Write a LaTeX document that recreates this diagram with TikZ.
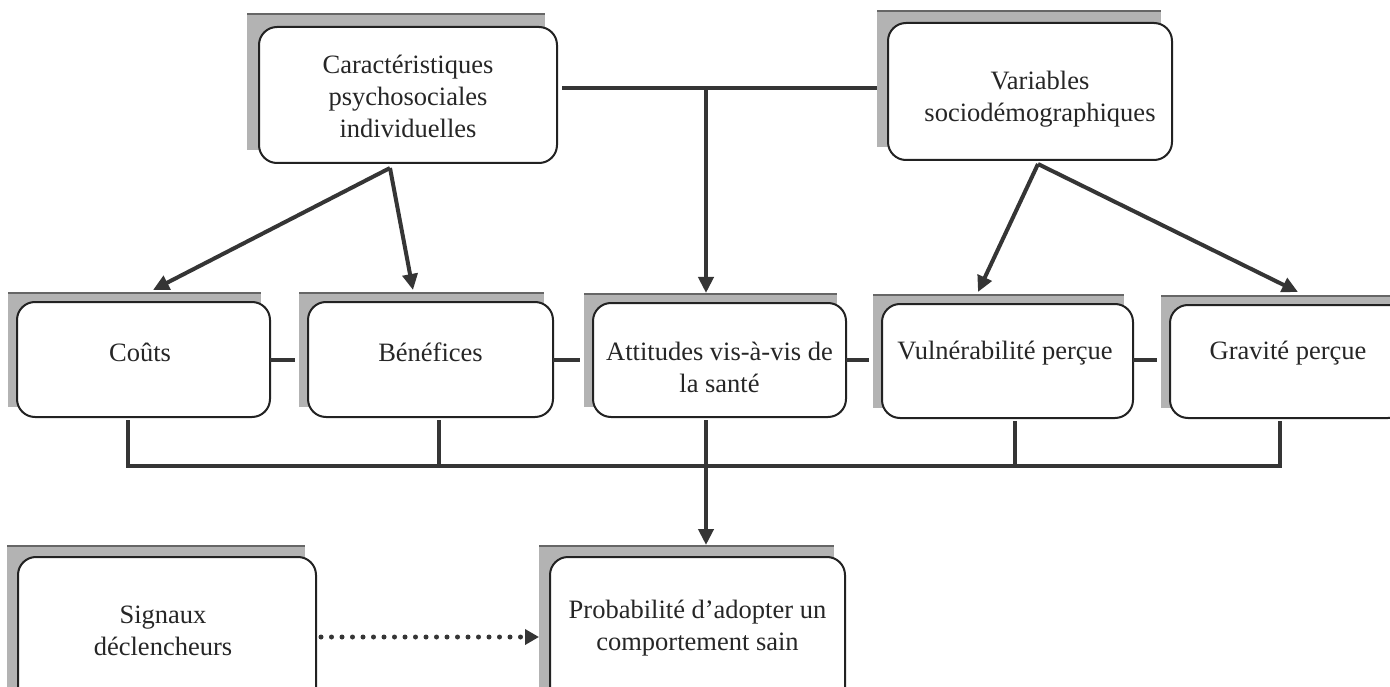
\documentclass[tikz,border=0pt]{standalone}
\usepackage{fontspec}
\setmainfont{Liberation Serif}
\usetikzlibrary{arrows.meta}
\definecolor{ink}{HTML}{353535}
\definecolor{edge}{HTML}{222222}
\definecolor{shade}{HTML}{B3B3B3}
\begin{document}
\begin{tikzpicture}[x=1pt,y=-1pt,
  shadowbox/.style={rectangle, fill=shade, inner sep=0pt, outer sep=0pt,
    path picture={\draw[line width=3pt, draw=black!60]
      (path picture bounding box.north west) -- (path picture bounding box.north east);}},
  panel/.style={rectangle, rounded corners=18pt, draw=edge, line width=2pt,
    fill=white, inner sep=0pt, outer sep=0pt},
  caption/.style={font=\fontsize{26.5}{32}\selectfont, align=center,
    text=black!85, inner sep=0pt},
  link/.style={draw=ink, line width=4pt},
  arrowlink/.style={link, -{Triangle[length=16pt,width=15pt]}},
  dotlink/.style={draw=ink, line width=5pt, line cap=round,
    dash pattern=on 0pt off 10.5pt, -{Triangle[length=14pt,width=15pt]}}
]
\useasboundingbox (0,0) rectangle (1390,687);
\clip (0,0) rectangle (1390,687);

% top row
\node[shadowbox, minimum width=298pt, minimum height=136pt] (cara-sh) at (396,82) {};
\node[panel, minimum width=298pt, minimum height=136pt] (cara) at (408,95) {};
\node[caption] (cara-t) at (408,96) {Caractéristiques\\psychosociales\\individuelles};

\node[shadowbox, minimum width=284pt, minimum height=137pt] (vars-sh) at (1019,79) {};
\node[panel, minimum width=284pt, minimum height=137pt] (vars) at (1030,91.5) {};
\node[caption] (vars-t) at (1040,99) {Variables\\sociodémographiques};

% middle row
\node[shadowbox, minimum width=253pt, minimum height=115pt] (couts-sh) at (134.5,349.5) {};
\node[panel, minimum width=253pt, minimum height=115pt] (couts) at (143.5,359.5) {};
\node[caption] (couts-t) at (140,352) {Coûts};

\node[shadowbox, minimum width=245pt, minimum height=115pt] (bene-sh) at (421.5,349.5) {};
\node[panel, minimum width=245pt, minimum height=115pt] (bene) at (430.5,359.5) {};
\node[caption] (bene-t) at (430.5,352) {Bénéfices};

\node[shadowbox, minimum width=253pt, minimum height=114pt] (att-sh) at (710.5,350) {};
\node[panel, minimum width=253pt, minimum height=114pt] (att) at (719.5,360) {};
\node[caption] (att-t) at (719.5,367) {Attitudes vis-à-vis de\\la santé};

\node[shadowbox, minimum width=251pt, minimum height=114pt] (vuln-sh) at (998.5,351) {};
\node[panel, minimum width=251pt, minimum height=114pt] (vuln) at (1007.5,361) {};
\node[caption] (vuln-t) at (1005,353) {Vulnérabilité perçue};

\node[shadowbox, minimum width=236pt, minimum height=113pt] (grav-sh) at (1279,351.5) {};
\node[panel, minimum width=236pt, minimum height=113pt] (grav) at (1288,361.5) {};
\node[caption] (grav-t) at (1288,353) {Gravité perçue};

% bottom row
\node[shadowbox, minimum width=298pt, minimum height=155pt] (sig-sh) at (156,622.5) {};
\node[panel, minimum width=298pt, minimum height=155pt] (sig) at (167,634.5) {};
\node[caption] (sig-t) at (163,631) {Signaux\\déclencheurs};

\node[shadowbox, minimum width=295pt, minimum height=155pt] (prob-sh) at (686.5,622.5) {};
\node[panel, minimum width=295pt, minimum height=155pt] (prob) at (697.5,634.5) {};
\node[caption] (prob-t) at (697.5,628) {Probabilité d’adopter un\\comportement sain};

% junction points
\coordinate (topjoin) at (706,88);
\coordinate (caraout) at (390,168);
\coordinate (varsout) at (1038,164);
\coordinate (midline) at (0,360);
\coordinate (b1) at (128,466);
\coordinate (b2) at (439,466);
\coordinate (b3) at (706,466);
\coordinate (b4) at (1015,466);
\coordinate (b5) at (1280,466);
\coordinate (dotline) at (0,637);

% link between the two upper boxes and the arrow down to the attitudes
\draw[link] ([xshift=5pt]cara.east |- topjoin) -- (vars-sh.west |- topjoin);
\draw[arrowlink] (topjoin) -- (att-sh.north -| topjoin);

% arrows out of the upper boxes
\draw[arrowlink] (caraout) -- (153,290);
\draw[arrowlink] (caraout) -- (413,290);
\draw[arrowlink] (varsout) -- (978,292);
\draw[arrowlink] (varsout) -- (1298,292);

% short links along the middle row
\draw[link] (couts.east |- midline) -- ([xshift=-4pt]bene-sh.west |- midline);
\draw[link] (bene.east |- midline) -- ([xshift=-4pt]att-sh.west |- midline);
\draw[link] (att.east |- midline) -- ([xshift=-4pt]vuln-sh.west |- midline);
\draw[link] (vuln.east |- midline) -- ([xshift=-4pt]grav-sh.west |- midline);

% collecting bus under the middle row
\draw[link] ([yshift=-3pt]couts.south -| b1) -- (b1) -- (b5) -- ([yshift=-3pt]grav.south -| b5);
\draw[link] ([yshift=-3pt]bene.south -| b2) -- (b2);
\draw[link] ([yshift=-3pt]vuln.south -| b4) -- (b4);
\draw[arrowlink] ([yshift=-3pt]att.south -| b3) -- (prob-sh.north -| b3);

% cue signals
\draw[dotlink] ([xshift=5pt]sig.east |- dotline) -- (prob-sh.west |- dotline);
\end{tikzpicture}
\end{document}
